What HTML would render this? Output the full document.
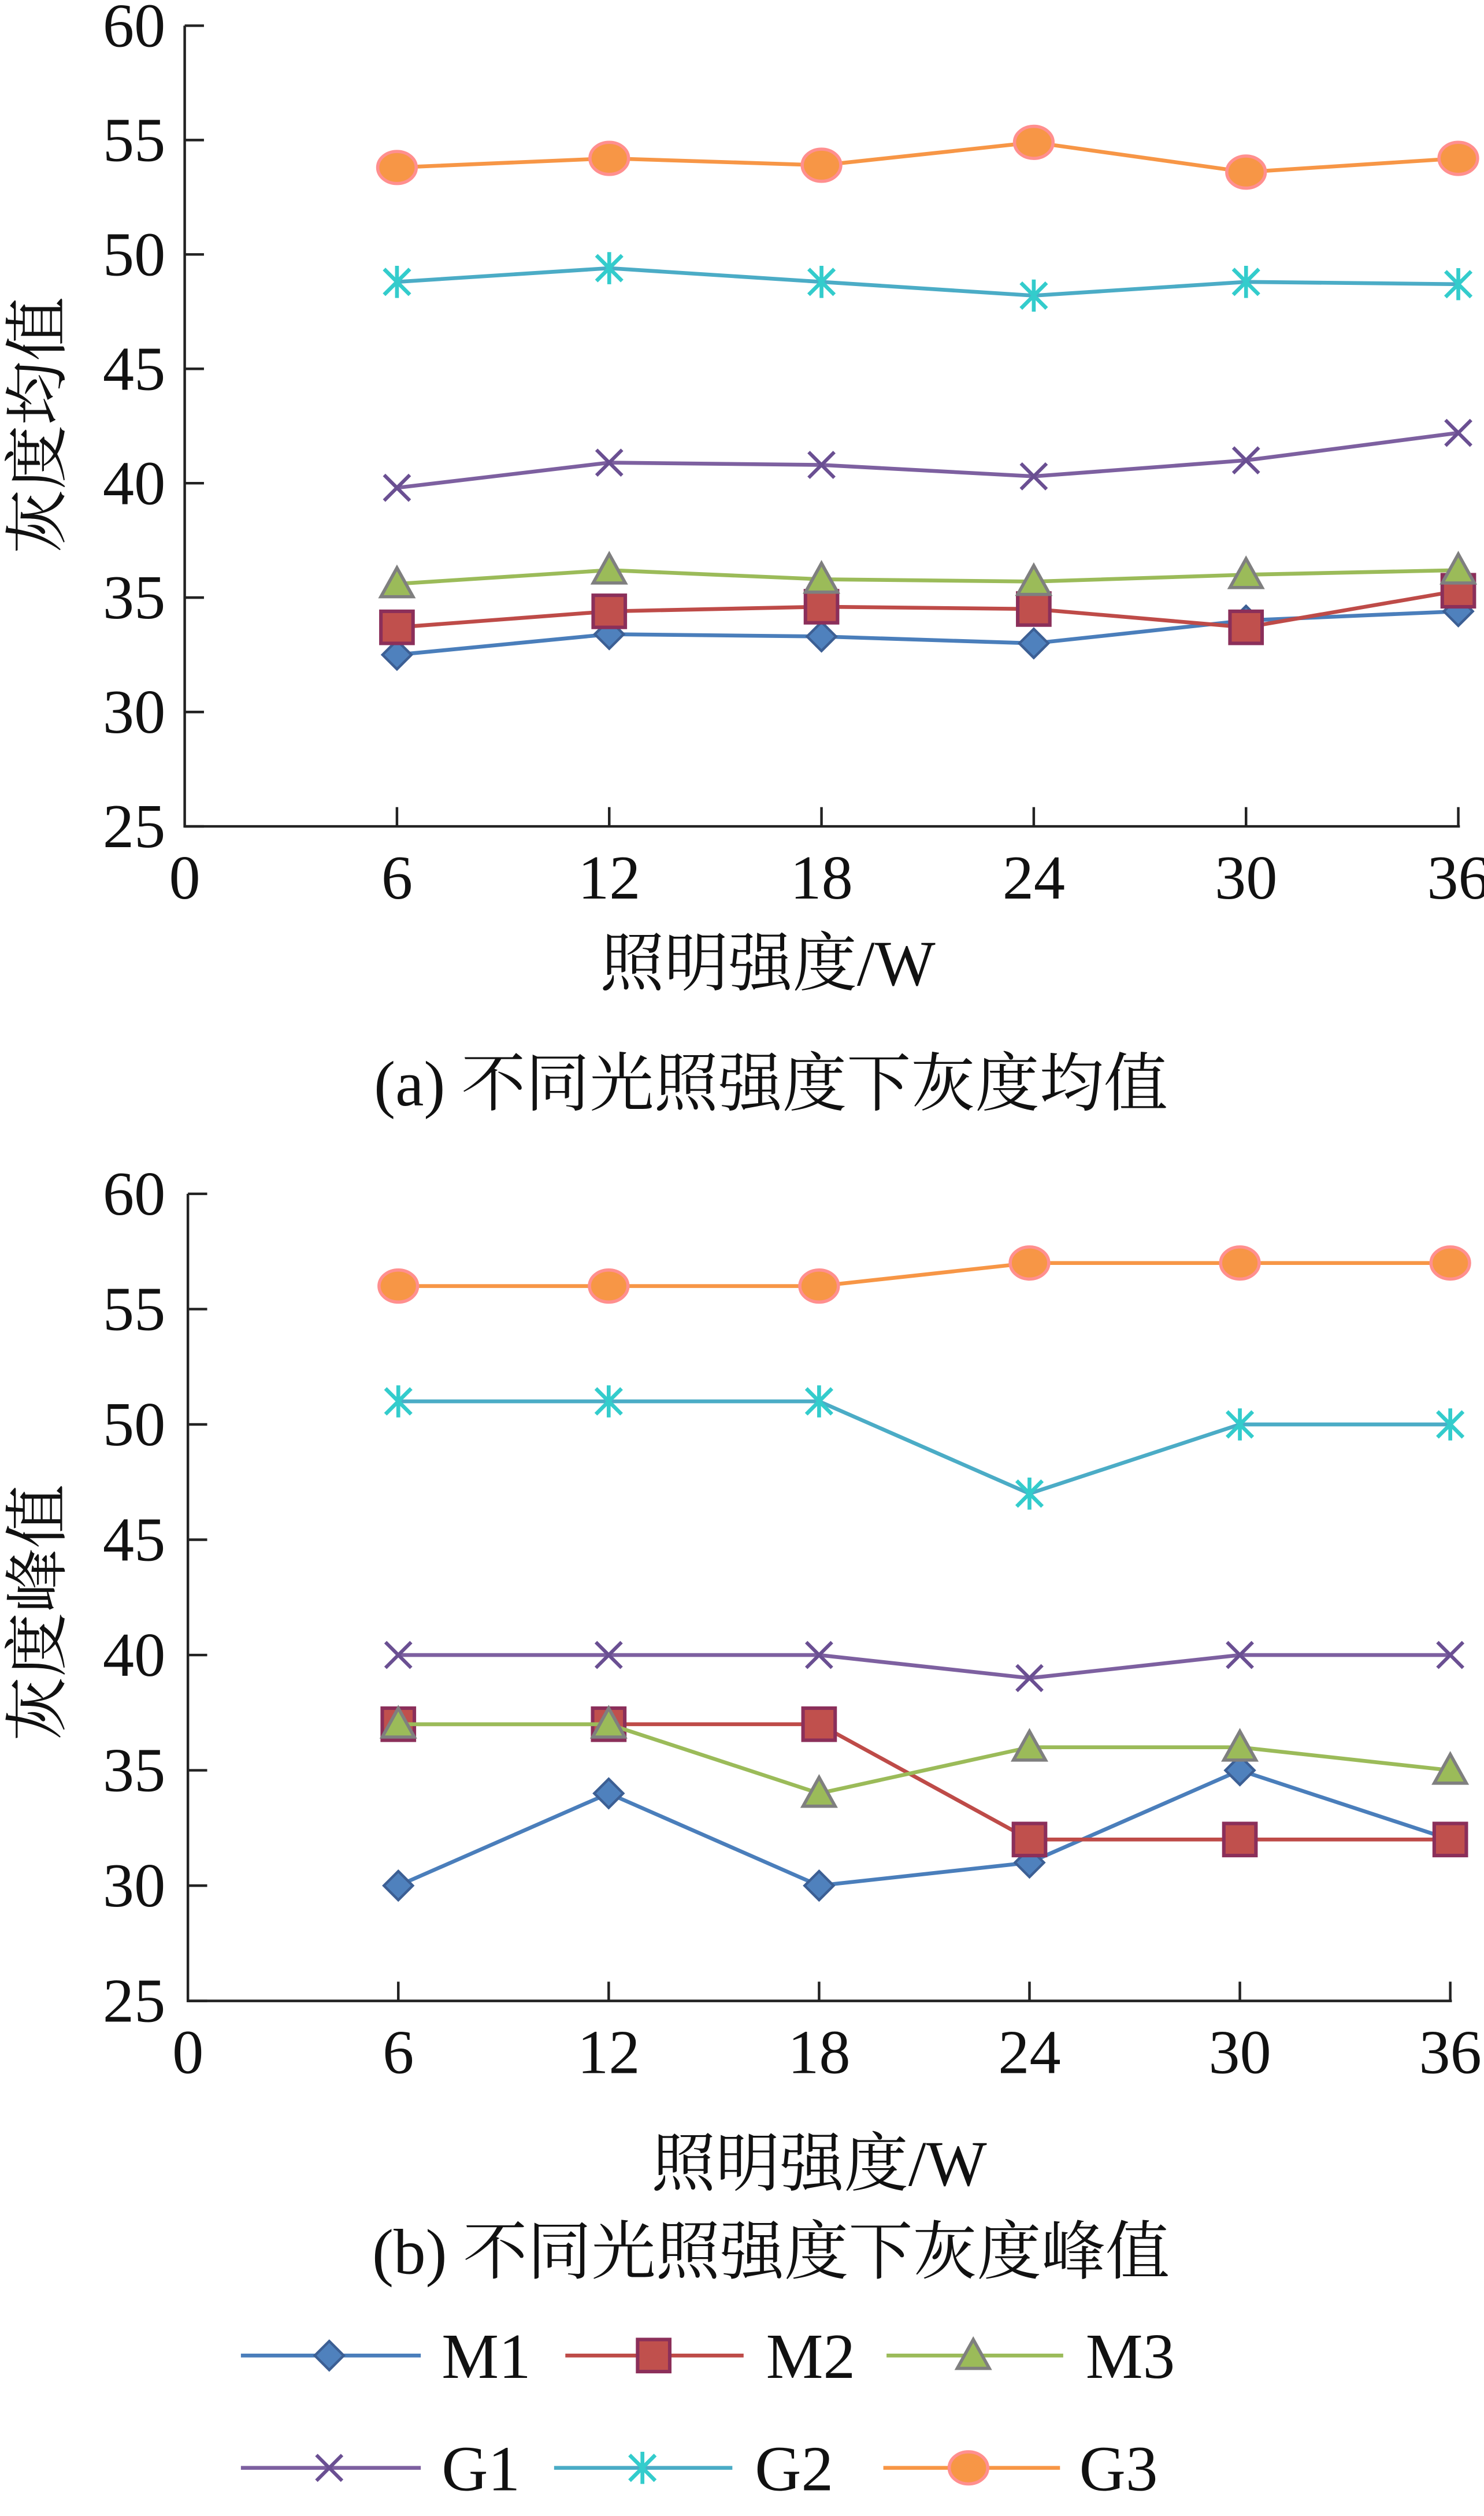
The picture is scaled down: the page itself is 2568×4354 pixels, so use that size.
<!DOCTYPE html>
<html><head><meta charset="utf-8"><style>
html,body{margin:0;padding:0;background:#fff}
svg{display:block}
text{font-family:"Liberation Serif","Noto Serif CJK SC",serif;fill:#111}
</style></head><body>
<svg id="svg" width="2568" height="4354" viewBox="0 0 924 1568" preserveAspectRatio="none" xmlns="http://www.w3.org/2000/svg"></svg>
<script>
const xCats = [6, 12, 18, 24, 30, 36];
const xTicks = [0, 6, 12, 18, 24, 30, 36];
const yTicks = [25, 30, 35, 40, 45, 50, 55, 60];
const seriesNames = ['M1', 'M2', 'M3', 'G1', 'G2', 'G3'];
const meanM1 = [32.5, 33.4, 33.3, 33.0, 34.0, 34.4];
const meanM2 = [33.7, 34.4, 34.6, 34.5, 33.7, 35.3];
const meanM3 = [35.6, 36.2, 35.8, 35.7, 36.0, 36.2];
const meanG1 = [39.8, 40.9, 40.8, 40.3, 41.0, 42.2];
const meanG2 = [48.8, 49.4, 48.8, 48.2, 48.8, 48.7];
const meanG3 = [53.8, 54.2, 53.9, 54.9, 53.6, 54.2];
const peakM1 = [30, 34, 30, 31, 35, 32];
const peakM2 = [37, 37, 37, 32, 32, 32];
const peakM3 = [37, 37, 34, 36, 36, 35];
const peakG1 = [40, 40, 40, 39, 40, 40];
const peakG2 = [51, 51, 51, 47, 50, 50];
const peakG3 = [56, 56, 56, 57, 57, 57];

const NS = 'http://www.w3.org/2000/svg';
const svg = document.getElementById('svg');
function mk(tag, attrs, parent) {
  const e = document.createElementNS(NS, tag);
  for (const k in attrs) e.setAttribute(k, attrs[k]);
  (parent || svg).appendChild(e);
  return e;
}
const styles = {
  M1: {line: '#4a7ebb', fill: '#4f81bd', stroke: '#3c5f94', shape: 'diamond'},
  M2: {line: '#be4b48', fill: '#c0504d', stroke: '#8b2f5a', shape: 'square'},
  M3: {line: '#9bbb59', fill: '#9bbb59', stroke: '#7f7f7f', shape: 'triangle'},
  G1: {line: '#7d60a0', fill: 'none', stroke: '#6a4f92', shape: 'x'},
  G2: {line: '#4bacc6', fill: 'none', stroke: '#33cccc', shape: 'star'},
  G3: {line: '#f79646', fill: '#f79646', stroke: '#ff8f8f', shape: 'circle'}
};
function marker(g, s, x, y) {
  const st = styles[s];
  let m;
  if (st.shape === 'diamond') m = mk('polygon', {points: `${x},${y-9} ${x+9},${y} ${x},${y+9} ${x-9},${y}`, fill: st.fill, stroke: st.stroke, 'stroke-width': 1.6}, g);
  else if (st.shape === 'square') m = mk('rect', {x: x-10, y: y-10, width: 20, height: 20, fill: st.fill, stroke: st.stroke, 'stroke-width': 2.2}, g);
  else if (st.shape === 'triangle') m = mk('polygon', {points: `${x},${y-10} ${x+10},${y+8} ${x-10},${y+8}`, fill: st.fill, stroke: st.stroke, 'stroke-width': 2}, g);
  else if (st.shape === 'x') m = mk('path', {d: `M${x-8},${y-8}L${x+8},${y+8}M${x-8},${y+8}L${x+8},${y-8}`, stroke: st.stroke, 'stroke-width': 2.2, fill: 'none'}, g);
  else if (st.shape === 'star') m = mk('path', {d: `M${x-8},${y-8}L${x+8},${y+8}M${x-8},${y+8}L${x+8},${y-8}M${x},${y-10}L${x},${y+10}`, stroke: st.stroke, 'stroke-width': 2.4, fill: 'none'}, g);
  else m = mk('ellipse', {cx: x, cy: y, rx: 12, ry: 10, fill: st.fill, stroke: st.stroke, 'stroke-width': 2}, g);
  
  
}
function chart(cfg) {
  const g = mk('g', {});
  
  
  const X = v => cfg.x0 + (v - 0) / 36 * (cfg.x1 - cfg.x0);
  const Y = v => cfg.yb + (v - 25) / 35 * (cfg.yt - cfg.yb);
  const ax = mk('path', {d: `M${cfg.x0},${cfg.yt}L${cfg.x0},${cfg.yb}L${cfg.x1+1},${cfg.yb}`, stroke: '#222', 'stroke-width': 1.6, fill: 'none'}, g);
  
  
  yTicks.forEach(v => {
    mk('line', {x1: cfg.x0, x2: cfg.x0 + 12, y1: Y(v), y2: Y(v), stroke: '#222', 'stroke-width': 1.6}, g);
    const t = mk('text', {x: 103, y: Y(v) + 13, 'text-anchor': 'end', 'font-size': 39}, g);
    t.textContent = v;
    
    
  });
  xTicks.forEach(v => {
    if (v > 0) mk('line', {x1: X(v), x2: X(v), y1: cfg.yb, y2: cfg.yb - 12, stroke: '#222', 'stroke-width': 1.6}, g);
    const t = mk('text', {x: X(v), y: cfg.yb + 45, 'text-anchor': 'middle', 'font-size': 39}, g);
    t.textContent = v;
    
    
  });
  cfg.data.forEach((arr, i) => {
    const s = seriesNames[i];
    const pts = arr.map((v, j) => `${X(xCats[j])},${Y(v)}`).join(' ');
    const pl = mk('polyline', {points: pts, fill: 'none', stroke: styles[s].line, 'stroke-width': 2.4}, g);
    
    
    arr.forEach((v, j) => marker(g, s, X(xCats[j]), Y(v)));
  });
  const yt = mk('text', {x: 0, y: 0, 'text-anchor': 'middle', 'font-size': 40, transform: `translate(37,${cfg.ylabY}) rotate(-90)`}, g);
  yt.textContent = cfg.ylab;
  
  
  const xt = mk('text', {x: cfg.xlabX, y: cfg.xlabY, 'text-anchor': 'middle', 'font-size': 40}, g);
  xt.textContent = '照明强度/W';
  
  
  const cp = mk('text', {x: 480, y: cfg.capY, 'text-anchor': 'middle', 'font-size': 40}, g);
  cp.textContent = cfg.cap;
  
  
}
chart({name: 'chart-mean', x0: 115, x1: 908, yt: 16, yb: 515, data: [meanM1, meanM2, meanM3, meanG1, meanG2, meanG3],
  ylab: '灰度均值', ylabY: 265, xlabX: 478, xlabY: 614, capY: 689, cap: '(a) 不同光照强度下灰度均值'});
chart({name: 'chart-peak', x0: 117, x1: 903, yt: 744, yb: 1247, data: [peakM1, peakM2, peakM3, peakG1, peakG2, peakG3],
  ylab: '灰度峰值', ylabY: 1005, xlabX: 510, xlabY: 1362, capY: 1417, cap: '(b) 不同光照强度下灰度峰值'});

const legendItems = [
  ['M1', 150, 262, 205, 275, 1468], ['M2', 352, 463, 407, 477, 1468], ['M3', 552, 662, 606, 676, 1468],
  ['G1', 150, 262, 205, 275, 1538], ['G2', 345, 456, 400, 470, 1538], ['G3', 550, 660, 603, 672, 1538]
];
const lg = mk('g', {});


legendItems.forEach(it => {
  const [s, a, b, m, tx, y] = it;
  const e = mk('g', {}, lg);
  
  
  mk('line', {x1: a, x2: b, y1: y, y2: y, stroke: styles[s].line, 'stroke-width': 2.4}, e);
  marker(e, s, m, y);
  const t = mk('text', {x: tx, y: y + 14, 'font-size': 40}, e);
  t.textContent = s;
});
</script>
</body></html>
